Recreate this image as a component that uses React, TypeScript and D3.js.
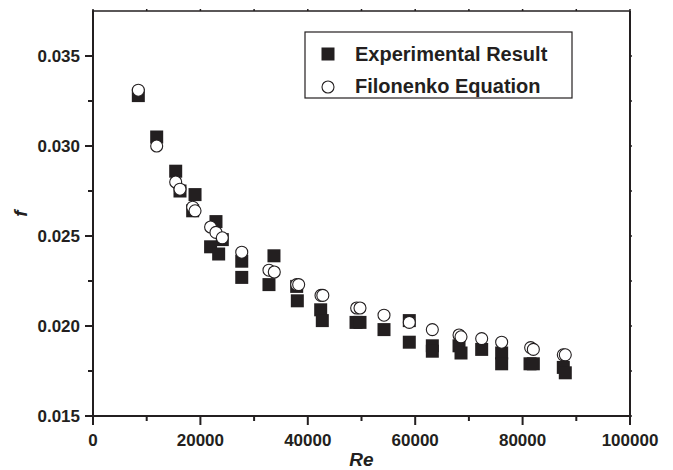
import React from 'react';
import * as d3 from 'd3';

// Experimental Result (filled squares)
const reExp = [8440, 11860, 15400, 16200, 19000, 18560, 22900, 24080, 21900, 23400, 27700, 27700, 33700, 32770, 37930, 38050, 42400, 42700, 48980, 49720, 54190, 58900, 58900, 63190, 63190, 68160, 68530, 72380, 76100, 76100, 81380, 82000, 87580, 87950];
const fExp = [0.0328, 0.0305, 0.0286, 0.0275, 0.0273, 0.0264, 0.0258, 0.0248, 0.0244, 0.0240, 0.0236, 0.0227, 0.0239, 0.0223, 0.0222, 0.0214, 0.0209, 0.0203, 0.0202, 0.0202, 0.0198, 0.0203, 0.0191, 0.0189, 0.0186, 0.0189, 0.0185, 0.0187, 0.0185, 0.0179, 0.0179, 0.0179, 0.0177, 0.0174];

// Filonenko Equation (open circles)
const reFil = [8440, 11860, 15400, 16200, 18560, 19000, 21900, 22900, 24080, 27700, 32770, 33760, 37930, 38300, 42460, 42800, 49100, 49720, 54190, 58900, 63190, 68160, 68530, 72380, 76100, 81500, 82000, 87580, 87950];
const fFil = [0.0331, 0.0300, 0.0280, 0.0276, 0.0266, 0.0264, 0.0255, 0.0252, 0.0249, 0.0241, 0.0231, 0.0230, 0.0223, 0.0223, 0.0217, 0.0217, 0.0210, 0.0210, 0.0206, 0.0202, 0.0198, 0.0195, 0.0194, 0.0193, 0.0191, 0.0188, 0.0187, 0.0184, 0.0184];

const xTicks = [0, 20000, 40000, 60000, 80000, 100000];
const xMinor = [10000, 30000, 50000, 70000, 90000];
const yTicks = [0.015, 0.020, 0.025, 0.030, 0.035];
const yMinor = [0.0175, 0.0225, 0.0275, 0.0325];

const legendLabels = ['Experimental Result', 'Filonenko Equation'];
const xTitle = 'Re';
const yTitle = 'f';

const W = 673;
const H = 470;
const FONT = '"Liberation Sans", Arial, Helvetica, sans-serif';
const INK = '#231f20';

export default function App() {
  const x = d3.scaleLinear().domain([0, 100000]).range([93, 630]);
  const y = d3.scaleLinear().domain([0.015, 0.0375]).range([416, 11]);
  const fmtY = d3.format('.3f');
  const fmtX = d3.format('d');
  const [x0, x1] = x.range();
  const [y0, y1] = y.range();
  const sq = 13;
  const r = 6;

  return (
    <svg width={W} height={H} style={{ position: 'absolute', left: 0, top: 0, background: '#fff' }} fontFamily={FONT}>
      <rect x={0} y={0} width={W} height={H} fill="#fff" />
      {/* frame */}
      <line x1={x0} x2={x1} y1={y1} y2={y1} stroke={INK} strokeWidth={1.5} />
      <line x1={x1} x2={x1} y1={y1} y2={y0} stroke={INK} strokeWidth={2} />
      <line x1={x0} x2={x0} y1={y1 - 0.75} y2={y0 + 1} stroke={INK} strokeWidth={2} />
      <line x1={x0 - 1} x2={x1 + 1} y1={y0} y2={y0} stroke={INK} strokeWidth={2} />

      {/* bottom ticks */}
      {xTicks.map((t) => (
        <g key={'xt' + t}>
          <line x1={x(t)} x2={x(t)} y1={y0} y2={y0 + 9} stroke={INK} strokeWidth={2} />
          <text x={x(t)} y={446} textAnchor="middle" fontSize={17} fontWeight="bold" fill={INK}>{fmtX(t)}</text>
        </g>
      ))}
      {xMinor.map((t) => (
        <line key={'xm' + t} x1={x(t)} x2={x(t)} y1={y0} y2={y0 + 5} stroke={INK} strokeWidth={2} />
      ))}
      {/* top ticks */}
      {[...xTicks, ...xMinor].map((t) => (
        <line key={'tt' + t} x1={x(t)} x2={x(t)} y1={y1} y2={y1 - 2} stroke={INK} strokeWidth={1.5} />
      ))}

      {/* left ticks */}
      {yTicks.map((t) => (
        <g key={'yt' + t}>
          <line x1={x0 - 8} x2={x0} y1={y(t)} y2={y(t)} stroke={INK} strokeWidth={2} />
          <text x={80} y={y(t)} dy="0.36em" textAnchor="end" fontSize={17} fontWeight="bold" fill={INK}>{fmtY(t)}</text>
        </g>
      ))}
      {yMinor.map((t) => (
        <line key={'ym' + t} x1={x0 - 5} x2={x0} y1={y(t)} y2={y(t)} stroke={INK} strokeWidth={2} />
      ))}
      {/* right ticks */}
      {[...yTicks, ...yMinor].map((t) => (
        <line key={'rt' + t} x1={x1} x2={x1 + 2} y1={y(t)} y2={y(t)} stroke={INK} strokeWidth={1.5} />
      ))}

      {/* axis titles */}
      <text x={(x0 + x1) / 2} y={466} textAnchor="middle" fontSize={19} fontWeight="bold" fontStyle="italic" fill={INK}>{xTitle}</text>
      <text transform={`translate(27, ${(y0 + y1) / 2}) rotate(-90)`} textAnchor="middle" fontSize={19} fontWeight="bold" fontStyle="italic" fill={INK}>{yTitle}</text>

      {/* experimental squares */}
      {reExp.map((re, i) => (
        <rect key={'e' + i} x={x(re) - sq / 2} y={y(fExp[i]) - sq / 2} width={sq} height={sq} fill={INK} />
      ))}
      {/* Filonenko circles */}
      {reFil.map((re, i) => (
        <circle key={'c' + i} cx={x(re)} cy={y(fFil[i])} r={r} fill="#fff" stroke={INK} strokeWidth={1.1} />
      ))}

      {/* legend */}
      <rect x={305} y={32} width={267} height={66} fill="#fff" stroke={INK} strokeWidth={1.2} />
      <rect x={328 - sq / 2} y={54 - sq / 2} width={sq} height={sq} fill={INK} />
      <circle cx={328} cy={87} r={r} fill="#fff" stroke={INK} strokeWidth={1.1} />
      <text x={355} y={54} dy="0.36em" fontSize={20} fontWeight="bold" fill={INK}>{legendLabels[0]}</text>
      <text x={355} y={86} dy="0.36em" fontSize={20} fontWeight="bold" fill={INK}>{legendLabels[1]}</text>
    </svg>
  );
}
